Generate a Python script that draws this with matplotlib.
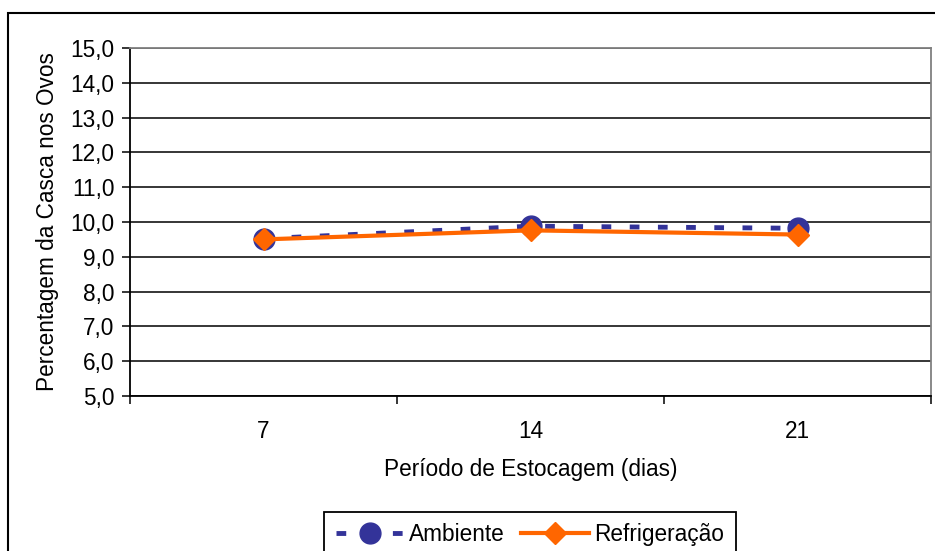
import matplotlib
matplotlib.use("Agg")
import matplotlib.pyplot as plt
from matplotlib.lines import Line2D
from matplotlib.patches import Rectangle
from matplotlib.ticker import FuncFormatter, MultipleLocator, FixedLocator

plt.rcParams['font.family'] = ['Liberation Sans', 'DejaVu Sans']

'''dados do grafico'''
dias = ['7', '14', '21']
ambiente = [9.52, 9.88, 9.82]
refrigeracao = [9.50, 9.76, 9.64]

azul = '#333399'
laranja = '#FF6600'
fs = 16.3
tracos = (2.0, 3.8)

fig = plt.figure(figsize=(9.35, 5.51), dpi=100)
ax = fig.add_axes([130/935, 1-396/551, (931-130)/935, (396-48)/551])

x = range(len(dias))
ax.plot(x, ambiente, color=azul, lw=3.5, dashes=tracos, marker='o',
        markersize=15, markerfacecolor=azul, markeredgecolor=azul, zorder=3)
ax.plot(x, refrigeracao, color=laranja, lw=3.0, marker='D',
        markersize=11.5, markerfacecolor=laranja, markeredgecolor=laranja, zorder=4)

ax.set_xlim(-0.5, len(dias)-0.5)
ax.set_ylim(5, 15)
ax.yaxis.set_major_locator(MultipleLocator(1))
ax.yaxis.set_major_formatter(FuncFormatter(lambda v, p: ('%.1f' % v).replace('.', ',')))
ax.grid(axis='y', color='black', lw=1.1)
ax.set_axisbelow(True)

ax.set_xticks(list(x))
ax.set_xticklabels(dias)
ax.xaxis.set_minor_locator(FixedLocator([i-0.5 for i in range(len(dias)+1)]))
ax.tick_params(axis='x', which='major', length=0, pad=17, labelsize=fs)
ax.tick_params(axis='x', which='minor', length=6, width=1.1, direction='out')
ax.tick_params(axis='y', length=6, width=1.1, direction='out', labelsize=fs, pad=5)

for s in ['left', 'bottom']:
    ax.spines[s].set_color('black')
    ax.spines[s].set_linewidth(1.3)
for s in ['top', 'right']:
    ax.spines[s].set_color('#808080')
    ax.spines[s].set_linewidth(1.3)

ax.set_xlabel('Período de Estocagem (dias)', fontsize=fs, labelpad=11)
ax.set_ylabel('Percentagem da Casca nos Ovos', fontsize=fs, labelpad=8)

# moldura externa do grafico
fig.patches.append(Rectangle((8/935, -0.1), 1.2, 1-13/551+0.1, transform=fig.transFigure,
                             fill=False, edgecolor='black', lw=1.5, clip_on=False))

handles = [Line2D([], [], color=azul, lw=3.5, dashes=tracos, marker='o',
                  markersize=15, markerfacecolor=azul, markeredgecolor=azul),
           Line2D([], [], color=laranja, lw=3.0, marker='D', markersize=11.5,
                  markerfacecolor=laranja, markeredgecolor=laranja)]
leg = fig.legend(handles, ['Ambiente', 'Refrigeração'], loc='upper center',
                 bbox_to_anchor=(530/935, 1-512/551), ncol=2, fontsize=fs,
                 frameon=True, fancybox=False, edgecolor='black', framealpha=1,
                 handlelength=3.0, handletextpad=0.25, columnspacing=0.7,
                 borderpad=0.5, borderaxespad=0)
leg.get_frame().set_linewidth(1.3)

fig.savefig('out.png', dpi=100)
